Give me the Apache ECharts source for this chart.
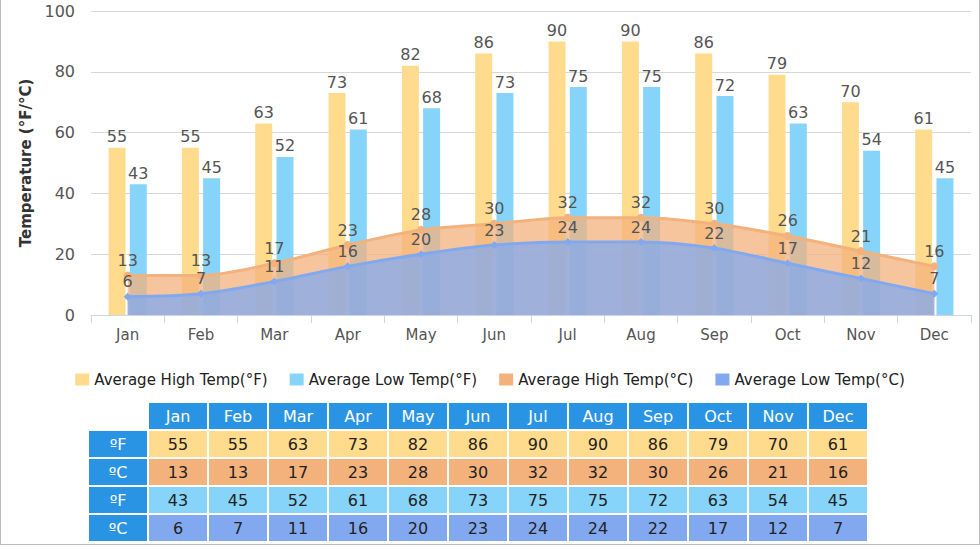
<!DOCTYPE html>
<html><head><meta charset="utf-8">
<script src="https://cdn.jsdelivr.net/npm/echarts@6/dist/echarts.min.js"></script>
<style>
html,body{margin:0;padding:0;background:#fff;}
#wrap{position:relative;width:978px;height:544px;border:1px solid #bbb;border-top:none;}
#chart{position:absolute;left:0;top:0;width:978px;height:400px;}
#tbl{position:absolute;left:86px;top:401px;border-collapse:separate;border-spacing:2px;font-family:"DejaVu Sans",Verdana,sans-serif;font-size:16px;}
#tbl td{width:58px;height:26px;padding:0;text-align:center;color:#222;}
#tbl td.h{background:#2a94e4;color:#fff;}
#tbl td.e{background:transparent;}
</style></head>
<body><div id="wrap"><div id="chart"></div><table id="tbl"></table></div>
<script>
var months = ['Jan','Feb','Mar','Apr','May','Jun','Jul','Aug','Sep','Oct','Nov','Dec'];
var highF = [55,55,63,73,82,86,90,90,86,79,70,61];
var lowF = [43,45,52,61,68,73,75,75,72,63,54,45];
var highC = [13,13,17,23,28,30,32,32,30,26,21,16];
var lowC = [6,7,11,16,20,23,24,24,22,17,12,7];
var cHighF = '#fedb8d', cLowF = '#86d4f9', cHighC = '#f3b17c', cLowC = '#82a9ef';

var font = '"DejaVu Sans", Verdana, sans-serif';
var lbl = { show: true, position: 'top', color: '#555', fontSize: 16, fontFamily: font, distance: 3 };
var chart = echarts.init(document.getElementById('chart'), null, { renderer: 'svg' });
chart.setOption({
  animation: false,
  legend: {
    bottom: 8, left: 'center', itemWidth: 14, itemHeight: 12, itemGap: 22,
    textStyle: { color: '#222', fontSize: 15, fontFamily: font },
    data: [
      { name: 'Average High Temp(°F)', icon: 'rect' },
      { name: 'Average Low Temp(°F)', icon: 'rect' },
      { name: 'Average High Temp(°C)', icon: 'rect' },
      { name: 'Average Low Temp(°C)', icon: 'rect' }
    ]
  },
  grid: { left: 90, right: 8, top: 11, bottom: 85 },
  xAxis: {
    type: 'category', data: months,
    axisLine: { lineStyle: { color: '#ccd6eb' } },
    axisTick: { show: true, length: 8, lineStyle: { color: '#ccd6eb' } },
    axisLabel: { color: '#555', fontSize: 15, fontFamily: font, margin: 12 }
  },
  yAxis: {
    type: 'value', min: 0, max: 100, interval: 20,
    name: 'Temperature (°F/°C)', nameLocation: 'middle', nameGap: 58,
    nameTextStyle: { color: '#333', fontSize: 15, fontWeight: 'bold', fontFamily: font },
    axisLabel: { color: '#555', fontSize: 16, fontFamily: font, margin: 16 },
    splitLine: { lineStyle: { color: '#d8d8d8' } }
  },
  series: [
    { name: 'Average High Temp(°F)', type: 'bar', data: highF, barWidth: 17, barGap: '25%',
      itemStyle: { color: cHighF }, label: lbl },
    { name: 'Average Low Temp(°F)', type: 'bar', data: lowF, barWidth: 17,
      itemStyle: { color: cLowF }, label: lbl },
    { name: 'Average High Temp(°C)', type: 'line', data: highC, smooth: 0.3,
      symbol: 'circle', symbolSize: 8, itemStyle: { color: cHighC },
      lineStyle: { width: 3, color: cHighC }, areaStyle: { color: cHighC, opacity: 0.75 }, label: lbl },
    { name: 'Average Low Temp(°C)', type: 'line', data: lowC, smooth: 0.3,
      symbol: 'diamond', symbolSize: 8, itemStyle: { color: cLowC },
      lineStyle: { width: 3, color: cLowC }, areaStyle: { color: cLowC, opacity: 0.75 }, label: lbl }
  ]
});

var tbl = document.getElementById('tbl');
var rows = [
  { head: '', vals: months, bg: null },
  { head: 'ºF', vals: highF, bg: cHighF },
  { head: 'ºC', vals: highC, bg: cHighC },
  { head: 'ºF', vals: lowF, bg: cLowF },
  { head: 'ºC', vals: lowC, bg: cLowC }
];
rows.forEach(function(r, i) {
  var tr = document.createElement('tr');
  var th = document.createElement('td');
  th.className = i === 0 ? 'e' : 'h';
  th.textContent = r.head;
  tr.appendChild(th);
  r.vals.forEach(function(v) {
    var td = document.createElement('td');
    td.textContent = v;
    if (i === 0) td.className = 'h'; else td.style.background = r.bg;
    tr.appendChild(td);
  });
  tbl.appendChild(tr);
});
</script></body></html>
